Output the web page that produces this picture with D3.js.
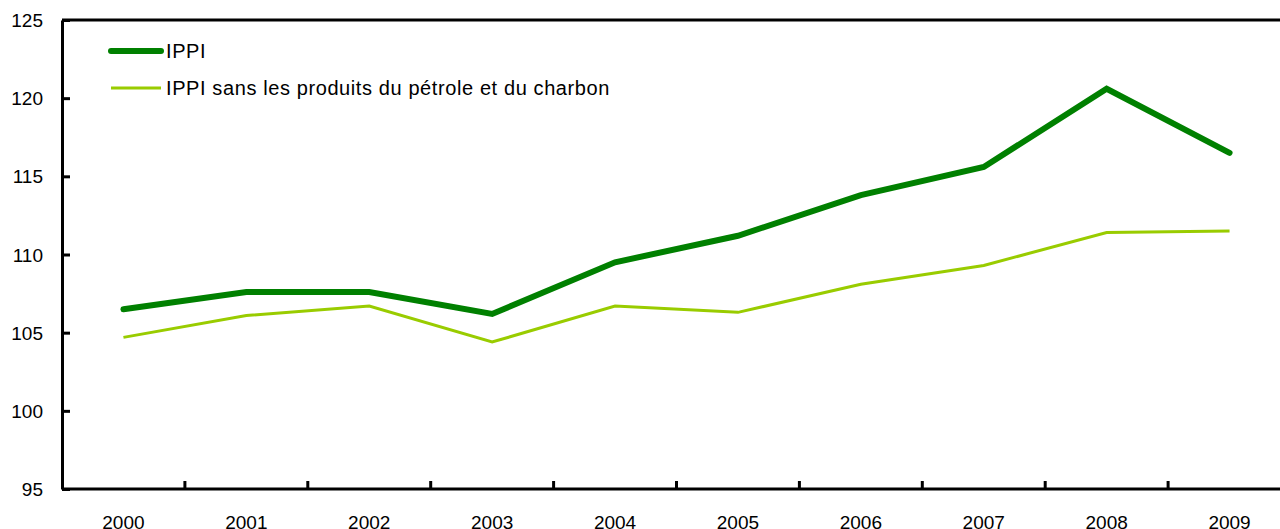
<!DOCTYPE html>
<html>
<head>
<meta charset="utf-8">
<script src="https://cdn.jsdelivr.net/npm/d3@7"></script>
<style>
	body { margin: 0; background: #fff; }
	svg { display: block; font-family: "Liberation Sans", Arial, Helvetica, sans-serif; }
	.axis path, .axis line { stroke: #000; stroke-width: 3; }
	.axis text { font-size: 19px; fill: #000; }
</style>
</head>
<body>
<div id="chart"></div>
<script>
"use strict";

// Chart data
var years = ["2000", "2001", "2002", "2003", "2004", "2005", "2006", "2007", "2008", "2009"];
var ippi = [106.5, 107.6, 107.6, 106.2, 109.5, 111.2, 113.8, 115.6, 120.6, 116.5];
var ippiSansPetrole = [104.7, 106.1, 106.7, 104.4, 106.7, 106.3, 108.1, 109.3, 111.4, 111.5];
var yTicks = [95, 100, 105, 110, 115, 120, 125];
var seriesNames = ["IPPI", "IPPI sans les produits du pétrole et du charbon"];

// Dimensions
var width = 1280,
	height = 529,
	margin = { top: 20, left: 62, bottom: 40 },
	plotW = 1229,
	plotH = height - margin.top - margin.bottom;

var svg = d3.select("#chart").append("svg")
	.attr("width", width)
	.attr("height", height);

var g = svg.append("g")
	.attr("transform", "translate(" + margin.left + "," + margin.top + ")");

// Scales
var x = d3.scaleBand()
	.domain(years)
	.range([0, plotW]);

var y = d3.scaleLinear()
	.domain([95, 125])
	.range([plotH, 0]);

// Top frame line
g.append("line")
	.attr("x1", 0)
	.attr("x2", plotW)
	.attr("y1", y(125))
	.attr("y2", y(125))
	.attr("stroke", "#000")
	.attr("stroke-width", 3);

// Y axis, ticks pointing inward
var yAxis = d3.axisLeft(y)
	.tickValues(yTicks)
	.tickSize(-8)
	.tickPadding(19)
	.tickSizeOuter(0);

g.append("g")
	.attr("class", "axis y")
	.call(yAxis)
	.selectAll("text")
	.attr("dy", "0.35em");

// X axis: ticks at band boundaries, labels at band centers
var xAxisG = g.append("g")
	.attr("class", "axis x")
	.attr("transform", "translate(0," + plotH + ")");

xAxisG.append("line")
	.attr("x1", 0)
	.attr("x2", plotW)
	.attr("y1", 0)
	.attr("y2", 0);

xAxisG.selectAll(".tick")
	.data(years.slice(1))
	.enter().append("line")
	.attr("class", "tick")
	.attr("x1", function (d) { return x(d); })
	.attr("x2", function (d) { return x(d); })
	.attr("y1", 0)
	.attr("y2", -8);

xAxisG.selectAll(".label")
	.data(years)
	.enter().append("text")
	.attr("class", "label")
	.attr("x", function (d) { return x(d) + x.bandwidth() / 2; })
	.attr("y", 40)
	.attr("text-anchor", "middle")
	.text(function (d) { return d; });

// Lines
var line = d3.line()
	.x(function (d, i) { return x(years[i]) + x.bandwidth() / 2; })
	.y(function (d) { return y(d); });

g.append("path")
	.datum(ippiSansPetrole)
	.attr("fill", "none")
	.attr("stroke", "#99cc00")
	.attr("stroke-width", 3)
	.attr("d", line);

g.append("path")
	.datum(ippi)
	.attr("fill", "none")
	.attr("stroke", "#008000")
	.attr("stroke-width", 6)
	.attr("stroke-linecap", "round")
	.attr("d", line);

// Legend
var legend = svg.append("g")
	.attr("transform", "translate(111,51)");

var legendStyles = [
	{ color: "#008000", w: 6 },
	{ color: "#99cc00", w: 3 }
];

seriesNames.forEach(function (name, i) {
	var row = legend.append("g")
		.attr("transform", "translate(0," + (i * 37) + ")");
	row.append("line")
		.attr("x1", 0)
		.attr("x2", 50)
		.attr("stroke", legendStyles[i].color)
		.attr("stroke-width", legendStyles[i].w)
		.attr("stroke-linecap", i === 0 ? "round" : "butt");
	row.append("text")
		.attr("x", 55)
		.attr("dy", "0.35em")
		.attr("font-size", "20px")
		.attr("letter-spacing", "0.6px")
		.text(name);
});
</script>
</body>
</html>
